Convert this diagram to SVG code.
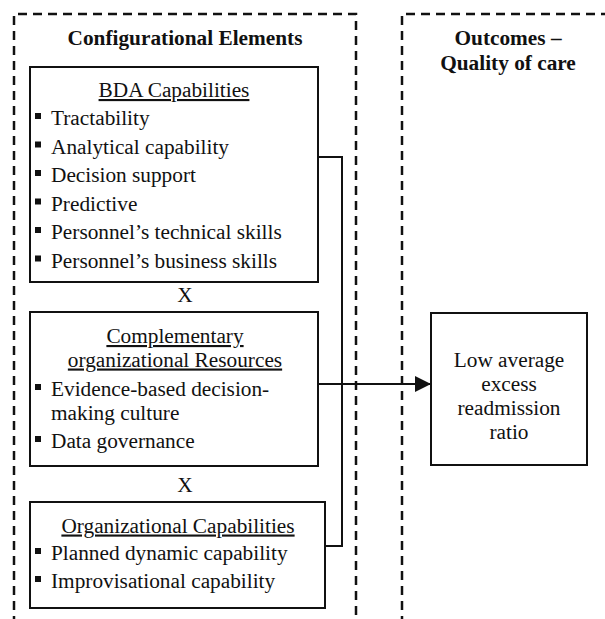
<svg xmlns="http://www.w3.org/2000/svg" width="605" height="619" viewBox="0 0 605 619">
  <style>
    text { font-family: "Liberation Serif", "Times New Roman", serif; font-size: 21.3px; fill: #111; }
    .hd { font-weight: bold; text-anchor: middle; }
    .ttl { text-anchor: middle; text-decoration: underline; }
    .mid { text-anchor: middle; }
    .frame { fill: none; stroke: #111; stroke-width: 2.5; stroke-dasharray: 9 6; }
    .box { fill: #fff; stroke: #111; stroke-width: 2; }
    .bul { fill: #111; }
    .wire { fill: none; stroke: #111; stroke-width: 2; }
  </style>
  <defs>
    <marker id="arrow" markerWidth="16" markerHeight="16" refX="15" refY="8" orient="auto" markerUnits="userSpaceOnUse">
      <path d="M0,0 L16,8 L0,16 Z" fill="#111"/>
    </marker>
  </defs>
  <rect width="605" height="619" fill="#fff"/>

  <!-- dashed column frames -->
  <g id="frames">
    <path class="frame" d="M14,625 V14 H356 V625"/>
    <path class="frame" d="M402,625 V14 H612"/>
    <text class="hd" x="185" y="45">Configurational Elements</text>
    <text class="hd" x="508" y="45">Outcomes –</text>
    <text class="hd" x="508" y="70">Quality of care</text>
  </g>

  <!-- connectors -->
  <g id="connectors">
    <path class="wire" d="M318,157 H342 V546 H325"/>
    <path class="wire" d="M318,384 H430" marker-end="url(#arrow)"/>
  </g>

  <g id="bda">
    <rect class="box" x="30" y="67" width="288" height="215"/>
    <text class="ttl" x="174" y="97">BDA Capabilities</text>
    <rect class="bul" x="35" y="113" width="6" height="6"/>
    <text x="51" y="125">Tractability</text>
    <rect class="bul" x="35" y="141.5" width="6" height="6"/>
    <text x="51" y="153.5">Analytical capability</text>
    <rect class="bul" x="35" y="170" width="6" height="6"/>
    <text x="51" y="182">Decision support</text>
    <rect class="bul" x="35" y="198.5" width="6" height="6"/>
    <text x="51" y="210.5">Predictive</text>
    <rect class="bul" x="35" y="227" width="6" height="6"/>
    <text x="51" y="239">Personnel’s technical skills</text>
    <rect class="bul" x="35" y="255.5" width="6" height="6"/>
    <text x="51" y="267.5">Personnel’s business skills</text>
  </g>

  <g id="x1">
    <text class="mid" x="185" y="302">X</text>
  </g>

  <g id="complementary">
    <rect class="box" x="30" y="312" width="288" height="154"/>
    <text class="ttl" x="175" y="343">Complementary</text>
    <text class="ttl" x="175" y="366.5">organizational Resources</text>
    <rect class="bul" x="35" y="384" width="6" height="6"/>
    <text x="51" y="396">Evidence-based decision-</text>
    <text x="51" y="419.5">making culture</text>
    <rect class="bul" x="35" y="436" width="6" height="6"/>
    <text x="51" y="448">Data governance</text>
  </g>

  <g id="x2">
    <text class="mid" x="185" y="492">X</text>
  </g>

  <g id="organizational">
    <rect class="box" x="30" y="502" width="295" height="106"/>
    <text class="ttl" x="178" y="532.5">Organizational Capabilities</text>
    <rect class="bul" x="35" y="548" width="6" height="6"/>
    <text x="51" y="560">Planned dynamic capability</text>
    <rect class="bul" x="35" y="576" width="6" height="6"/>
    <text x="51" y="588">Improvisational capability</text>
  </g>

  <g id="outcome">
    <rect class="box" x="431" y="313" width="156" height="152"/>
    <text class="mid" x="509" y="367">Low average</text>
    <text class="mid" x="509" y="391">excess</text>
    <text class="mid" x="509" y="415">readmission</text>
    <text class="mid" x="509" y="439">ratio</text>
  </g>
</svg>
